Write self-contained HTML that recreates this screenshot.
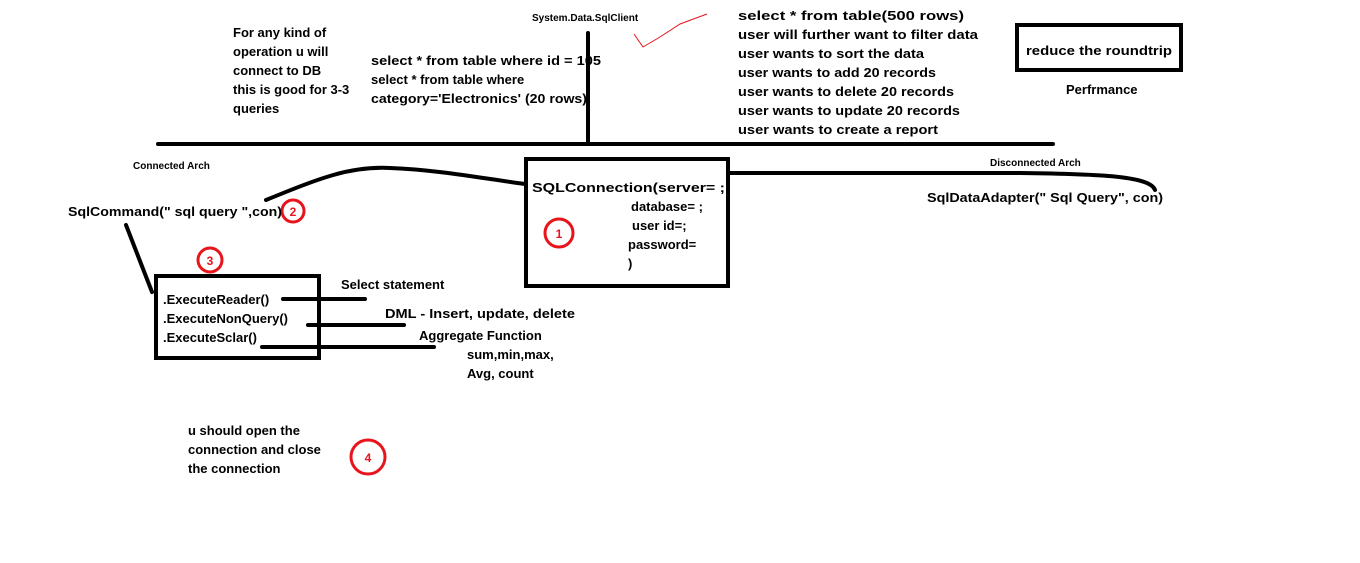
<!DOCTYPE html>
<html><head><meta charset="utf-8"><style>
html,body{margin:0;padding:0;background:#fff;width:1360px;height:563px;overflow:hidden}
svg{display:block}
text{font-family:"Liberation Sans",sans-serif;font-size:13px;font-weight:bold;fill:#000}
.s{font-size:10px}
.r{fill:#e8141c;font-size:12px}
</style></head><body>
<svg width="1360" height="563" viewBox="0 0 1360 563" xmlns="http://www.w3.org/2000/svg">
<g stroke="#000" stroke-width="4" fill="none" stroke-linecap="round">
<line x1="588" y1="33" x2="588" y2="143"/>
<line x1="158" y1="144" x2="1053" y2="144"/>
<rect x="1017" y="25" width="164" height="45"/>
<rect x="526" y="159" width="202" height="127"/>
<rect x="156" y="276" width="163" height="82"/>
<path d="M266 200 C320 178 350 166 390 168 C440 170 480 178 525 184"/>
<path d="M730 173 L1020 173 C1100 174 1150 176 1155 190"/>
<line x1="126" y1="225" x2="152" y2="292"/>
<line x1="283" y1="299" x2="365" y2="299"/>
<line x1="308" y1="325" x2="404" y2="325"/>
<line x1="262" y1="347" x2="434" y2="347"/>
</g>
<polyline points="634,34 643,47 660,37 680,24 707,14" stroke="#e8141c" stroke-width="1" fill="none"/>
<g stroke="#e8141c" stroke-width="3" fill="none">
<circle cx="293" cy="211" r="11"/>
<circle cx="559" cy="233" r="14"/>
<circle cx="210" cy="260" r="12"/>
<circle cx="368" cy="457" r="17"/>
</g>
<text class="r" x="293" y="216" text-anchor="middle">2</text>
<text class="r" x="559" y="238" text-anchor="middle">1</text>
<text class="r" x="210" y="265" text-anchor="middle">3</text>
<text class="r" x="368" y="462" text-anchor="middle">4</text>

<text x="233" y="37">For any kind of</text>
<text x="233" y="56">operation u will</text>
<text x="233" y="75">connect to DB</text>
<text x="233" y="94">this is good for 3-3</text>
<text x="233" y="113">queries</text>

<text x="371" y="65" textLength="230" lengthAdjust="spacingAndGlyphs">select * from table where id = 105</text>
<text x="371" y="84">select * from table where</text>
<text x="371" y="103" textLength="216" lengthAdjust="spacingAndGlyphs">category='Electronics' (20 rows)</text>

<text class="s" x="532" y="21">System.Data.SqlClient</text>

<text x="738" y="20" textLength="226" lengthAdjust="spacingAndGlyphs">select * from table(500 rows)</text>
<text x="738" y="39" textLength="240" lengthAdjust="spacingAndGlyphs">user will further want to filter data</text>
<text x="738" y="58" textLength="186" lengthAdjust="spacingAndGlyphs">user wants to sort the data</text>
<text x="738" y="77" textLength="198" lengthAdjust="spacingAndGlyphs">user wants to add 20 records</text>
<text x="738" y="96" textLength="216" lengthAdjust="spacingAndGlyphs">user wants to delete 20 records</text>
<text x="738" y="115" textLength="222" lengthAdjust="spacingAndGlyphs">user wants to update 20 records</text>
<text x="738" y="134" textLength="200" lengthAdjust="spacingAndGlyphs">user wants to create a report</text>

<text x="1026" y="55" textLength="146" lengthAdjust="spacingAndGlyphs">reduce the roundtrip</text>
<text x="1066" y="94">Perfrmance</text>

<text class="s" x="133" y="169">Connected Arch</text>
<text class="s" x="990" y="166">Disconnected Arch</text>

<text x="68" y="216" textLength="214" lengthAdjust="spacingAndGlyphs">SqlCommand(" sql query ",con)</text>

<text x="532" y="192" textLength="193" lengthAdjust="spacingAndGlyphs">SQLConnection(server= ;</text>
<text x="631" y="211">database= ;</text>
<text x="632" y="230">user id=;</text>
<text x="628" y="249">password=</text>
<text x="628" y="268">)</text>

<text x="927" y="202" textLength="236" lengthAdjust="spacingAndGlyphs">SqlDataAdapter(" Sql Query", con)</text>

<text x="163" y="304">.ExecuteReader()</text>
<text x="163" y="323">.ExecuteNonQuery()</text>
<text x="163" y="342">.ExecuteSclar()</text>

<text x="341" y="289">Select statement</text>
<text x="385" y="318" textLength="190" lengthAdjust="spacingAndGlyphs">DML - Insert, update, delete</text>
<text x="419" y="340">Aggregate Function</text>
<text x="467" y="359">sum,min,max,</text>
<text x="467" y="378">Avg, count</text>

<text x="188" y="435">u should open the</text>
<text x="188" y="454">connection and close</text>
<text x="188" y="473">the connection</text>
</svg>
</body></html>
